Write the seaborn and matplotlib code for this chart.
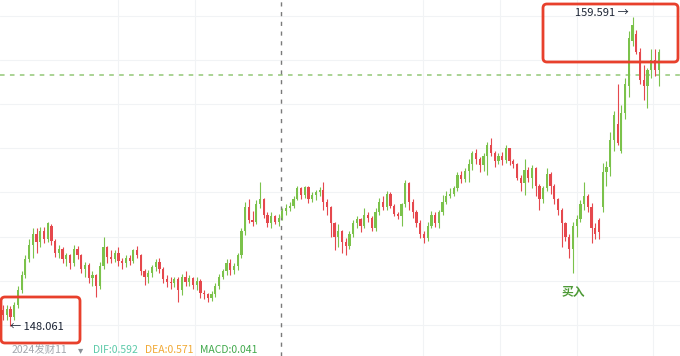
import numpy as np
import matplotlib.pyplot as plt
import matplotlib.transforms as mtrans
from matplotlib.patches import FancyBboxPatch
import seaborn as sns

sns.set_theme(style="white")
plt.rcParams['font.family'] = ['Noto Sans CJK SC', 'DejaVu Sans']

# daily candles (oldest first)
opens = [
    148.66, 148.47, 148.70, 148.40, 148.85, 149.40, 149.95, 150.55, 151.10, 151.50,
    151.20, 151.60, 151.30, 151.80, 151.25, 150.80, 150.95, 150.55, 150.70, 150.40,
    150.95, 150.70, 150.20, 150.35, 149.85, 149.95, 149.55, 150.30, 151.00, 150.65,
    150.55, 150.80, 150.50, 150.40, 150.60, 150.50, 150.90, 150.70, 150.10, 149.90,
    150.05, 150.25, 150.45, 150.20, 149.80, 149.70, 149.65, 149.80, 149.40, 149.90,
    149.70, 149.85, 149.60, 149.75, 149.30, 149.25, 149.10, 149.25, 149.55, 149.90,
    150.10, 150.40, 150.15, 150.30, 150.70, 151.60, 152.50, 152.00, 151.95, 152.60,
    152.80, 152.20, 151.90, 152.15, 151.95, 152.10, 152.35, 152.45, 152.55, 152.80,
    153.20, 152.95, 153.25, 152.80, 152.95, 153.05, 153.15, 152.70, 152.50, 151.90,
    151.40, 151.60, 151.20, 151.05, 151.50, 151.90, 152.05, 151.80, 152.20, 152.10,
    151.70, 152.30, 152.70, 152.50, 153.00, 152.55, 152.25, 152.15, 152.60, 153.40,
    152.70, 152.30, 151.90, 151.50, 151.35, 151.80, 152.20, 151.90, 152.30, 152.70,
    152.90, 153.00, 153.20, 153.70, 153.55, 153.85, 154.10, 154.50, 154.30, 154.05,
    154.40, 154.80, 154.50, 154.20, 154.40, 154.25, 154.70, 154.20, 154.10, 153.60,
    153.40, 153.90, 153.60, 153.95, 153.30, 152.80, 153.20, 153.75, 153.30, 152.80,
    152.40, 151.90, 151.40, 150.95, 151.80, 152.05, 152.60, 152.90, 152.50, 151.70,
    152.00, 152.50, 153.80, 154.00, 155.00, 155.60, 154.60, 156.00, 157.00, 158.70,
    158.95, 158.30, 157.25, 157.00, 157.60, 158.00, 157.60,
]
closes = [
    148.47, 148.70, 148.40, 148.85, 149.40, 149.95, 150.55, 151.10, 151.50, 151.20,
    151.60, 151.30, 151.90, 151.25, 150.80, 150.95, 150.55, 150.70, 150.40, 150.95,
    150.70, 150.20, 150.35, 149.85, 149.95, 149.55, 150.30, 151.00, 150.65, 150.55,
    150.80, 150.50, 150.40, 150.60, 150.50, 150.90, 150.70, 150.10, 149.90, 150.05,
    150.25, 150.45, 150.20, 149.80, 149.70, 149.65, 149.80, 149.40, 149.90, 149.70,
    149.85, 149.60, 149.75, 149.30, 149.25, 149.10, 149.25, 149.55, 149.90, 150.10,
    150.40, 150.15, 150.30, 150.70, 151.60, 152.50, 152.00, 151.95, 152.60, 152.80,
    152.20, 151.90, 152.15, 151.95, 152.10, 152.35, 152.45, 152.55, 152.80, 153.20,
    152.95, 153.25, 152.80, 152.95, 153.05, 153.15, 152.70, 152.50, 151.90, 151.40,
    151.60, 151.20, 151.05, 151.50, 151.90, 152.05, 151.80, 152.20, 152.10, 151.70,
    152.30, 152.70, 152.50, 153.00, 152.55, 152.25, 152.15, 152.60, 153.40, 152.70,
    152.30, 151.90, 151.50, 151.35, 151.80, 152.20, 151.90, 152.30, 152.70, 152.90,
    153.00, 153.20, 153.70, 153.55, 153.85, 154.10, 154.50, 154.30, 154.05, 154.40,
    154.80, 154.50, 154.20, 154.40, 154.25, 154.70, 154.20, 154.10, 153.60, 153.40,
    153.90, 153.60, 153.95, 153.30, 152.80, 153.20, 153.75, 153.30, 152.80, 152.40,
    151.90, 151.40, 150.95, 151.80, 152.05, 152.60, 152.90, 152.50, 151.70, 151.50,
    151.55, 153.80, 154.00, 155.00, 155.95, 154.90, 156.00, 157.10, 158.80, 159.30,
    158.30, 157.25, 157.00, 157.60, 158.00, 157.60, 158.30,
]
highs = [
    148.84, 148.84, 148.80, 148.95, 149.55, 150.10, 150.70, 151.30, 151.70, 151.70,
    151.75, 151.75, 151.95, 151.85, 151.30, 151.10, 151.00, 150.80, 150.75, 151.10,
    151.05, 150.75, 150.45, 150.40, 150.10, 150.00, 150.45, 151.40, 151.05, 150.90,
    150.90, 151.00, 150.60, 150.70, 150.70, 150.95, 151.05, 150.75, 150.20, 150.15,
    150.35, 150.55, 150.60, 150.25, 149.95, 149.90, 149.90, 149.90, 150.00, 150.10,
    149.95, 149.90, 149.90, 149.80, 149.40, 149.30, 149.35, 149.65, 150.00, 150.20,
    150.55, 150.55, 150.40, 150.80, 151.70, 152.70, 152.80, 152.35, 152.75, 153.43,
    152.85, 152.30, 152.30, 152.20, 152.25, 152.45, 152.60, 152.70, 152.90, 153.30,
    153.25, 153.30, 153.30, 153.05, 153.15, 153.25, 153.45, 152.80, 152.55, 151.95,
    151.85, 151.65, 151.35, 151.60, 152.00, 152.15, 152.10, 152.45, 152.30, 152.15,
    152.45, 152.85, 152.90, 153.10, 153.05, 152.60, 152.30, 152.65, 153.51, 153.45,
    152.80, 152.40, 152.00, 151.60, 151.95, 152.35, 152.30, 152.40, 152.95, 153.10,
    153.20, 153.30, 153.80, 153.85, 153.95, 154.30, 154.60, 154.65, 154.35, 154.50,
    154.93, 155.08, 154.60, 154.50, 154.55, 154.80, 154.70, 154.30, 154.15, 153.70,
    154.30, 154.00, 154.05, 154.00, 153.35, 153.30, 153.95, 153.80, 153.35, 152.85,
    152.45, 151.95, 151.50, 151.95, 152.20, 152.75, 153.45, 153.00, 152.65, 151.90,
    152.10, 154.15, 154.20, 155.30, 156.10, 157.10, 156.30, 157.30, 159.05, 159.591,
    159.10, 158.45, 157.80, 157.70, 158.40, 158.40, 158.40,
]
lows = [
    148.28, 148.30, 148.061, 148.30, 148.75, 149.30, 149.85, 150.45, 150.60, 150.80,
    151.00, 151.15, 151.20, 151.10, 150.65, 150.60, 150.40, 150.30, 150.20, 150.30,
    150.55, 150.05, 149.90, 149.65, 149.55, 149.15, 149.45, 150.20, 150.40, 150.40,
    150.45, 150.30, 150.20, 150.25, 150.35, 150.40, 150.60, 149.95, 149.60, 149.65,
    149.90, 150.10, 150.05, 149.65, 149.50, 149.45, 149.50, 148.95, 149.20, 149.55,
    149.55, 149.45, 149.40, 149.10, 149.05, 148.95, 148.98, 149.15, 149.45, 149.80,
    149.95, 149.95, 150.00, 150.15, 150.60, 151.45, 151.90, 151.80, 151.85, 152.45,
    152.10, 151.75, 151.70, 151.85, 151.80, 152.00, 152.20, 152.35, 152.45, 152.75,
    152.80, 152.85, 152.65, 152.70, 152.75, 152.90, 152.40, 152.20, 151.40, 150.90,
    151.00, 150.80, 150.70, 150.95, 151.40, 151.70, 151.55, 151.70, 151.95, 151.60,
    151.60, 152.20, 152.40, 152.40, 152.45, 152.15, 152.05, 151.80, 152.50, 152.40,
    152.10, 151.75, 151.35, 151.15, 151.25, 151.70, 151.75, 151.70, 152.20, 152.60,
    152.85, 152.90, 153.10, 153.40, 153.45, 153.45, 153.90, 154.10, 153.80, 153.85,
    153.70, 154.40, 154.00, 154.10, 154.05, 154.15, 154.05, 153.95, 153.50, 153.10,
    152.95, 153.45, 153.20, 152.90, 152.40, 152.65, 153.10, 153.00, 152.60, 152.20,
    151.00, 151.25, 150.60, 150.04, 151.40, 151.95, 152.40, 152.30, 151.15, 151.30,
    151.30, 152.30, 153.30, 153.65, 154.60, 154.80, 154.50, 155.80, 156.60, 158.50,
    158.20, 157.10, 156.50, 156.20, 157.30, 157.40, 157.00,
]

buy_day = 153          # candle marked 买入
ref_price = 157.43     # green dotted line
cross_day = 74.6       # grey dashed crosshair
hgrid = [148.10, 149.74, 151.38, 153.06, 154.70, 156.34, 157.99, 159.63]
vgrid = [30.9, 51.5, 112.8, 133.4, 154.1, 174.5]

green = '#7bc24b'
red = '#e5484d'

W, H = 680, 356
fig = plt.figure(figsize=(W / 100, H / 100), dpi=100)
ax = fig.add_axes([0, 0, 1, 1])

o = np.array(opens)
c = np.array(closes)
hi = np.array(highs)
lo = np.array(lows)
days = np.arange(len(o))
cols = np.where(c >= o, green, red)

# faint grid
for y in hgrid:
    ax.axhline(y, color='#f1f3f5', lw=0.8, zorder=0)
for x in vgrid:
    ax.axvline(x, color='#f1f3f5', lw=0.8, zorder=0)

# candles
ax.vlines(days, lo, hi, colors=cols, lw=0.8, zorder=2)
ax.bar(days, np.maximum(np.abs(c - o), 0.05), bottom=np.minimum(o, c),
       width=0.6, color=cols, linewidth=0, zorder=3)

ax.axhline(ref_price, color='#93c777', lw=1.1, dashes=(3, 3.5), zorder=1)
ax.axvline(cross_day, color='#7a7a7a', lw=1, dashes=(3, 4), zorder=1)

ax.set_xlim(-0.805, 181.74)
ax.set_ylim(146.942, 160.224)
ax.axis('off')

# max / min labels
top = int(np.argmax(hi))
bot = int(np.argmin(lo))
ax.annotate(f'{hi[top]:.3f} →', xy=(top, hi[top]), xytext=(-2.5, 3),
            textcoords='offset points', ha='right', va='center',
            fontsize=8, color='#1c2434')
ax.annotate(f'← {lo[bot]:.3f}', xy=(bot, lo[bot]), xytext=(0, -0.5),
            textcoords='offset points', ha='left', va='center',
            fontsize=8, color='#1c2434')
ax.annotate('买入', xy=(buy_day, lo[buy_day]), xytext=(0, -14),
            textcoords='offset points', ha='center', va='center',
            fontsize=8.5, color='#4e9a37', fontweight='bold')

# red highlight boxes (pixel coords, top-left origin)
px = mtrans.Affine2D().scale(1 / W, 1 / H) + fig.transFigure
for x0, y0, x1, y1 in [(543, 4, 678, 62), (1, 297, 80, 343)]:
    fig.patches.append(FancyBboxPatch(
        (x0, H - y1), x1 - x0, y1 - y0,
        boxstyle='round,pad=0,rounding_size=4',
        transform=px, fill=False, ec='#e8402c', lw=2))

# indicator line along the bottom edge
for xp, s, col in [(12, '2024发财11', '#a3a7ae'), (78, '▾', '#8a8f96'),
                   (93, 'DIF:0.592', '#5ccaa9'), (145, 'DEA:0.571', '#f1a935'),
                   (200, 'MACD:0.041', '#41a94c')]:
    fig.text(xp / W, 1 - 353 / H, s, ha='left', va='baseline',
             fontsize=7.5, color=col)

fig.savefig('out.png', dpi=100)
